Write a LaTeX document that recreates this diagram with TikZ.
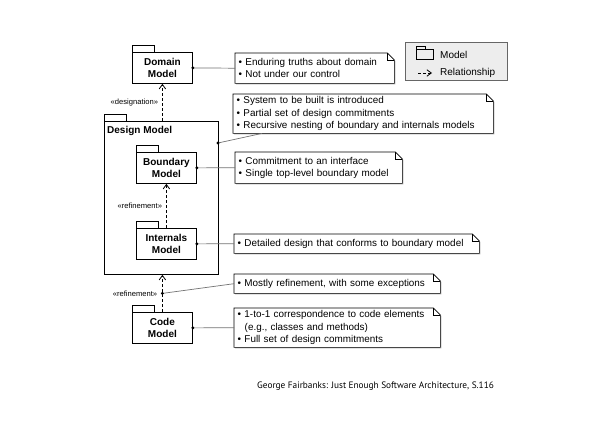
\documentclass[tikz,border=0pt]{standalone}
\usepackage{fontspec}
\setmainfont{Liberation Sans}
\newfontfamily\capfont{PT Sans}
\usetikzlibrary{arrows.meta,backgrounds,calc}
\tikzset{
  pkg/.style={draw, line width=0.8pt, fill=white, minimum width=60pt, minimum height=31pt,
    align=center, inner sep=0pt, anchor=north west, font=\bfseries\fontsize{10}{12}\selectfont},
  notetext/.style={anchor=north west, align=left, inner xsep=3.5pt, inner ysep=0pt,
    font=\fontsize{9.9}{12.3}\selectfont},
  dep/.style={dashed, dash pattern=on 3pt off 2pt, line width=0.8pt,
    -{Straight Barb[length=4.5pt,width=6.5pt,line width=0.8pt]}},
  conn/.style={draw=black!55, line width=0.7pt},
  stereo/.style={font=\fontsize{7.6}{9}\selectfont, inner sep=1pt},
}
\newcommand\pkgtab[1]{\draw[line width=0.8pt, fill=white] (#1.north west) rectangle ++(22,-7);}
\newcommand\notebox[1]{%
  \begin{scope}[on background layer]
    \fill[black!30] ($(#1.north west)+(1,1)$) -- ($(#1.north east)+(-6,1)$) -- ($(#1.north east)+(1,8)$)
       -- ($(#1.south east)+(1,1)$) -- ($(#1.south west)+(1,1)$) -- cycle;
    \filldraw[fill=white, draw=black, line width=0.6pt] (#1.north west) -- ($(#1.north east)+(-7,0)$) -- ($(#1.north east)+(0,7)$)
       -- (#1.south east) -- (#1.south west) -- cycle;
    \draw[line width=0.6pt] ($(#1.north east)+(-7,0)$) |- ($(#1.north east)+(0,7)$);
  \end{scope}}
\begin{document}
\begin{tikzpicture}[x=1pt, y=-1pt]
\begin{scope}[on background layer]
\fill[white] (0,0) rectangle (596,422);
\end{scope}
\useasboundingbox (0,0) rectangle (596,422);

% Design model container
\node[draw, line width=0.8pt, fill=white, anchor=north west, minimum width=114pt, minimum height=153pt, inner sep=0pt] (design) at (104,121) {};
\pkgtab{design}
\node[anchor=north west, inner sep=0pt, font=\bfseries\fontsize{10}{12}\selectfont] (designlbl) at (107,126) {Design Model};

% packages
\node[pkg] (dom) at (132,52) {Domain\\Model};
\pkgtab{dom}
\node[pkg] (bnd) at (136,152) {Boundary\\Model};
\pkgtab{bnd}
\node[pkg] (int) at (136,228) {Internals\\Model};
\pkgtab{int}
\node[pkg] (code) at (132,312) {Code\\Model};
\pkgtab{code}

% notes
\node[notetext, text width=152pt, minimum height=30pt] (n1) at (235,53)
  {\textbullet\ Enduring truths about domain\\\textbullet\ Not under our control};
\notebox{n1}
\node[notetext, text width=253pt, minimum height=39pt] (n2) at (233,94)
  {\textbullet\ System to be built is introduced\\\textbullet\ Partial set of design commitments\\\textbullet\ Recursive nesting of boundary and internals models};
\notebox{n2}
\node[notetext, text width=160pt, minimum height=31pt] (n3) at (235,152)
  {\textbullet\ Commitment to an interface\\\textbullet\ Single top-level boundary model};
\notebox{n3}
\node[notetext, text width=238pt, minimum height=19pt] (n4) at (234,234)
  {\textbullet\ Detailed design that conforms to boundary model};
\notebox{n4}
\node[notetext, text width=199pt, minimum height=19pt] (n5) at (234,274)
  {\textbullet\ Mostly refinement, with some exceptions};
\notebox{n5}
\node[notetext, text width=199pt, minimum height=39pt] (n6) at (234,308)
  {\textbullet\ 1-to-1 correspondence to code elements\\\hspace*{7pt}(e.g., classes and methods)\\\textbullet\ Full set of design commitments};
\notebox{n6}

% dependency arrows
\draw[dep] (design.north -| dom.south) -- node[stereo, left=3pt] (lbl1) {«designation»} (dom.south);
\draw[dep] (int.north) -- node[stereo, left=3pt] (lbl2) {«refinement»} (bnd.south);
\draw[dep] (code.north) -- coordinate[midway] (cm) (code.north |- design.south);
\node[stereo, left=4pt] (lbl3) at (cm) {«refinement»};

% note connectors
\draw[conn] (dom.east) -- (n1.west);
\coordinate (ddot) at (218,143);
\coordinate (n2c) at ($(n2.south west)+(29,0)$);
\draw[conn] (ddot) -- (n2c);
\draw[conn] (bnd.east) -- (n3.west);
\draw[conn] (int.east) -- (n4.west);
\draw[conn] (cm) -- (n5.west);
\draw[conn] (code.east) -- (n6.west);
\foreach \p in {dom.east, ddot, bnd.east, int.east, cm, code.east}
  \fill (\p) circle (1.6pt);

% legend
\node[draw=black!60, fill=black!7, line width=0.7pt, anchor=north west, minimum width=102pt, minimum height=38pt, inner sep=0pt] (leg) at (405,42) {};
\draw[line width=0.7pt] (416,49) rectangle (433,59);
\draw[line width=0.7pt] (416,46) rectangle (425,49);
\node[anchor=west, inner sep=0pt, font=\fontsize{10}{12}\selectfont] (legm) at (440,55) {Model};
\coordinate (la) at (418,73);
\coordinate (lb) at (432,73);
\draw[dep, line width=0.7pt] (la) -- (lb);
\node[anchor=west, inner sep=0pt, font=\fontsize{10}{12}\selectfont] (legr) at (440,73) {Relationship};

% caption
\node[anchor=west, inner sep=0pt, font=\capfont\fontsize{9.3}{11}\selectfont] (cap) at (257,386)
  {George Fairbanks: Just Enough Software Architecture, S.116};
\end{tikzpicture}
\end{document}
